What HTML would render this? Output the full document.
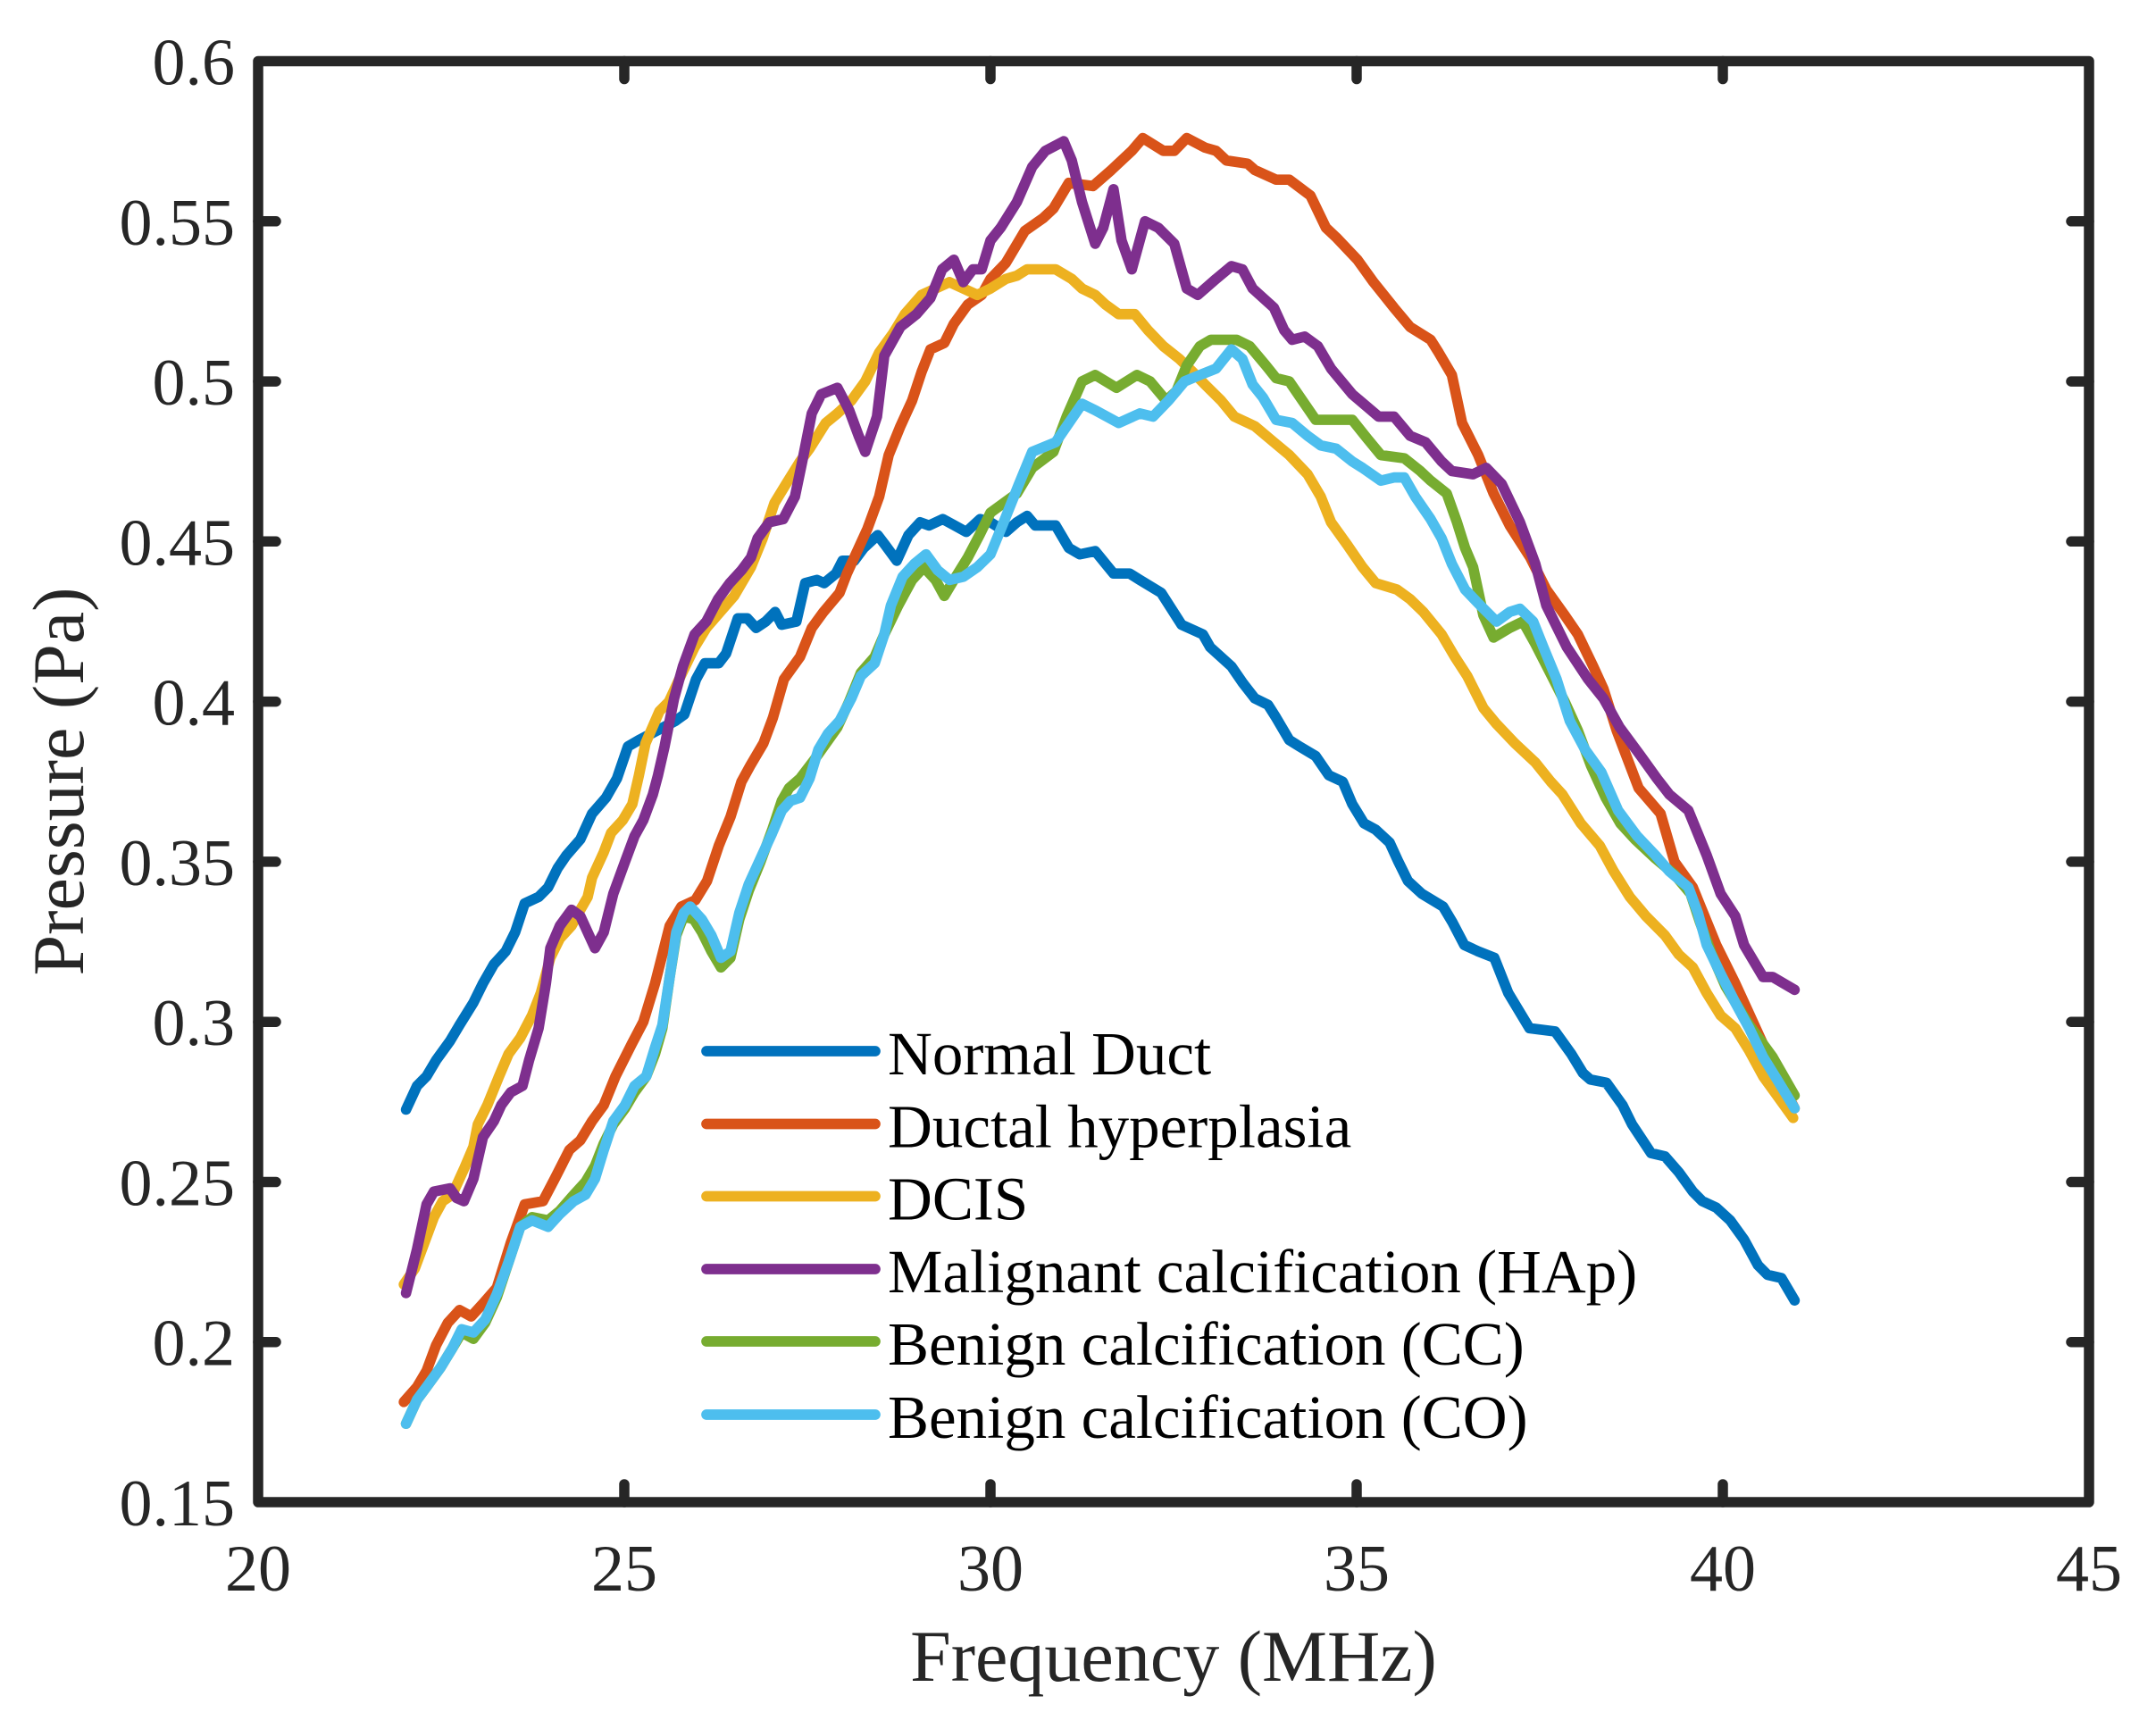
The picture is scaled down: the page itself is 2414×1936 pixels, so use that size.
<!DOCTYPE html>
<html>
<head>
<meta charset="utf-8">
<style>
html,body{margin:0;padding:0;background:#fff;}
svg{display:block;}
</style>
</head>
<body>
<svg width="2414" height="1936" viewBox="0 0 2414 1936" xmlns="http://www.w3.org/2000/svg">
<rect x="0" y="0" width="2414" height="1936" fill="#fff"/>

<g transform="matrix(82 0 0 -3585.6 -1351 2219.86)" fill="none" stroke-width="11.7" stroke-linejoin="round" stroke-linecap="round">
<polyline vector-effect="non-scaling-stroke" stroke="#0072BD" points="22.02,0.2726 22.17,0.280 22.30,0.283 22.43,0.288 22.62,0.294 22.75,0.299 22.94,0.306 23.07,0.312 23.22,0.318 23.38,0.322 23.51,0.328 23.64,0.337 23.83,0.339 23.96,0.342 24.09,0.348 24.21,0.352 24.40,0.357 24.56,0.365 24.75,0.370 24.90,0.376 25.05,0.386 25.20,0.388 25.45,0.391 25.70,0.394 25.82,0.396 25.98,0.407 26.10,0.412 26.29,0.412 26.39,0.415 26.55,0.426 26.68,0.426 26.80,0.423 26.93,0.425 27.06,0.428 27.15,0.424 27.35,0.425 27.47,0.437 27.63,0.438 27.73,0.437 27.89,0.440 27.98,0.444 28.14,0.444 28.27,0.448 28.46,0.452 28.56,0.449 28.72,0.444 28.88,0.452 29.04,0.456 29.16,0.455 29.35,0.457 29.51,0.455 29.67,0.453 29.86,0.457 30.0,0.456 30.21,0.453 30.36,0.456 30.50,0.458 30.61,0.455 30.89,0.455 31.07,0.448 31.22,0.446 31.43,0.447 31.68,0.440 31.90,0.440 32.04,0.438 32.33,0.434 32.61,0.424 32.90,0.421 33.0,0.417 33.29,0.411 33.44,0.406 33.61,0.401 33.79,0.399 33.90,0.395 34.08,0.388 34.22,0.386 34.44,0.383 34.62,0.377 34.81,0.375 34.94,0.368 35.10,0.362 35.26,0.360 35.45,0.356 35.57,0.350 35.70,0.344 35.89,0.340 36.18,0.336 36.31,0.331 36.47,0.324 36.66,0.322 36.88,0.320 37.07,0.309 37.36,0.298 37.71,0.297 37.93,0.290 38.09,0.284 38.19,0.282 38.41,0.281 38.63,0.274 38.76,0.268 39.02,0.259 39.21,0.258 39.40,0.253 39.59,0.247 39.72,0.244 39.91,0.242 40.10,0.238 40.29,0.232 40.48,0.224 40.61,0.221 40.80,0.220 40.98,0.213"/>
<polyline vector-effect="non-scaling-stroke" stroke="#D95319" points="21.99,0.1813 22.17,0.186 22.30,0.191 22.43,0.199 22.59,0.206 22.75,0.210 22.91,0.208 23.07,0.212 23.26,0.217 23.45,0.231 23.64,0.243 23.89,0.244 24.05,0.251 24.25,0.260 24.40,0.263 24.56,0.269 24.72,0.274 24.88,0.283 25.10,0.293 25.26,0.300 25.42,0.312 25.52,0.321 25.62,0.330 25.78,0.336 25.97,0.338 26.13,0.344 26.29,0.355 26.45,0.364 26.60,0.375 26.72,0.380 26.90,0.387 27.03,0.395 27.18,0.407 27.40,0.414 27.56,0.423 27.72,0.428 27.94,0.434 28.04,0.440 28.20,0.448 28.32,0.454 28.48,0.464 28.61,0.477 28.77,0.486 28.93,0.494 29.06,0.503 29.18,0.510 29.37,0.512 29.50,0.518 29.69,0.524 29.88,0.527 30.0,0.532 30.21,0.537 30.47,0.547 30.72,0.551 30.86,0.554 31.07,0.562 31.40,0.561 31.65,0.566 31.93,0.572 32.08,0.576 32.36,0.572 32.51,0.572 32.68,0.576 32.93,0.573 33.08,0.572 33.22,0.569 33.51,0.568 33.61,0.566 33.90,0.563 34.08,0.563 34.37,0.558 34.58,0.548 34.72,0.545 35.01,0.538 35.23,0.531 35.51,0.523 35.73,0.517 36.01,0.513 36.12,0.509 36.30,0.502 36.44,0.487 36.66,0.477 36.87,0.465 37.09,0.455 37.37,0.445 37.59,0.435 37.84,0.427 38.02,0.421 38.23,0.411 38.37,0.404 38.55,0.391 38.70,0.382 38.85,0.373 39.15,0.365 39.34,0.350 39.59,0.342 39.75,0.333 39.91,0.324 40.04,0.318 40.17,0.312 40.33,0.304 40.55,0.293 40.75,0.283 40.98,0.273"/>
<polyline vector-effect="non-scaling-stroke" stroke="#EDB120" points="21.99,0.218 22.14,0.223 22.27,0.231 22.40,0.239 22.52,0.244 22.65,0.246 22.81,0.254 22.94,0.261 23.0,0.268 23.13,0.274 23.29,0.283 23.42,0.290 23.58,0.295 23.74,0.302 23.86,0.309 23.99,0.320 24.12,0.326 24.28,0.330 24.40,0.335 24.50,0.339 24.56,0.345 24.72,0.353 24.82,0.359 24.98,0.363 25.11,0.368 25.20,0.377 25.29,0.387 25.48,0.397 25.61,0.400 25.77,0.408 25.96,0.417 26.12,0.423 26.31,0.428 26.50,0.433 26.73,0.442 26.89,0.451 27.05,0.462 27.21,0.468 27.40,0.475 27.53,0.479 27.75,0.487 27.91,0.490 28.10,0.494 28.29,0.500 28.48,0.509 28.67,0.515 28.83,0.521 29.06,0.527 29.25,0.529 29.44,0.531 29.63,0.529 29.82,0.527 30.0,0.529 30.21,0.532 30.36,0.533 30.50,0.535 30.89,0.535 31.11,0.532 31.25,0.529 31.43,0.527 31.57,0.524 31.75,0.521 31.97,0.521 32.15,0.516 32.36,0.511 32.58,0.507 32.76,0.503 32.93,0.499 33.15,0.494 33.33,0.489 33.61,0.486 33.87,0.481 34.08,0.477 34.33,0.471 34.51,0.464 34.65,0.456 34.87,0.449 35.08,0.442 35.26,0.437 35.55,0.435 35.73,0.432 35.91,0.428 36.16,0.421 36.34,0.414 36.51,0.408 36.73,0.398 36.91,0.393 37.16,0.387 37.44,0.381 37.65,0.375 37.81,0.371 38.06,0.362 38.32,0.355 38.51,0.347 38.73,0.339 38.95,0.333 39.21,0.327 39.40,0.321 39.59,0.317 39.78,0.309 39.97,0.302 40.17,0.298 40.36,0.291 40.55,0.283 40.74,0.277 40.96,0.270"/>
<polyline vector-effect="non-scaling-stroke" stroke="#7E2F8E" points="22.02,0.2153 22.17,0.229 22.30,0.243 22.40,0.247 22.62,0.248 22.71,0.245 22.81,0.244 22.94,0.251 23.07,0.264 23.22,0.269 23.32,0.274 23.45,0.278 23.61,0.280 23.70,0.288 23.83,0.298 23.93,0.312 23.99,0.323 24.12,0.330 24.28,0.335 24.40,0.333 24.50,0.328 24.60,0.323 24.72,0.328 24.85,0.340 25.01,0.350 25.14,0.358 25.26,0.363 25.39,0.371 25.46,0.377 25.55,0.386 25.68,0.401 25.80,0.411 25.96,0.421 26.12,0.425 26.28,0.432 26.44,0.437 26.60,0.441 26.73,0.445 26.82,0.451 26.98,0.456 27.17,0.457 27.33,0.464 27.43,0.475 27.56,0.490 27.69,0.496 27.91,0.498 28.07,0.491 28.20,0.483 28.29,0.478 28.45,0.489 28.55,0.508 28.77,0.517 28.99,0.521 29.18,0.526 29.34,0.535 29.50,0.538 29.63,0.531 29.76,0.535 29.88,0.535 30.0,0.544 30.14,0.548 30.36,0.556 30.57,0.567 30.75,0.572 31.0,0.575 31.11,0.569 31.25,0.556 31.43,0.543 31.54,0.548 31.68,0.560 31.79,0.544 31.93,0.535 32.11,0.550 32.29,0.548 32.51,0.543 32.68,0.529 32.83,0.527 33.08,0.532 33.29,0.536 33.44,0.535 33.58,0.529 33.87,0.523 34.01,0.516 34.12,0.513 34.29,0.514 34.47,0.511 34.65,0.504 34.94,0.496 35.30,0.489 35.51,0.489 35.73,0.483 35.94,0.481 36.16,0.475 36.30,0.472 36.59,0.471 36.77,0.473 36.98,0.468 37.23,0.456 37.44,0.443 37.59,0.430 37.87,0.417 38.16,0.407 38.37,0.401 38.59,0.392 38.88,0.383 39.10,0.376 39.27,0.371 39.53,0.366 39.78,0.352 39.97,0.340 40.17,0.333 40.29,0.324 40.55,0.314 40.68,0.314 40.98,0.310"/>
<polyline vector-effect="non-scaling-stroke" stroke="#77AC30" points="22.02,0.1745 22.17,0.182 22.30,0.186 22.49,0.192 22.65,0.198 22.78,0.203 22.94,0.201 23.10,0.206 23.26,0.214 23.42,0.225 23.58,0.236 23.74,0.239 23.96,0.238 24.12,0.241 24.31,0.246 24.47,0.250 24.60,0.255 24.72,0.262 24.85,0.268 25.01,0.273 25.14,0.278 25.30,0.283 25.42,0.290 25.52,0.298 25.62,0.314 25.71,0.327 25.81,0.333 25.95,0.332 26.06,0.328 26.19,0.322 26.32,0.317 26.45,0.320 26.57,0.332 26.70,0.341 26.86,0.350 27.02,0.360 27.15,0.369 27.25,0.373 27.40,0.376 27.60,0.382 27.91,0.392 28.07,0.400 28.23,0.409 28.42,0.414 28.55,0.421 28.74,0.430 28.93,0.438 29.09,0.442 29.25,0.438 29.37,0.433 29.50,0.438 29.69,0.445 29.85,0.452 30.0,0.459 30.18,0.462 30.36,0.465 30.57,0.473 30.86,0.478 31.04,0.489 31.25,0.500 31.43,0.502 31.72,0.498 32.0,0.502 32.18,0.500 32.40,0.494 32.54,0.497 32.68,0.505 32.86,0.511 33.01,0.513 33.36,0.513 33.54,0.511 33.76,0.505 33.90,0.501 34.08,0.500 34.26,0.494 34.44,0.488 34.94,0.488 35.15,0.482 35.33,0.477 35.65,0.476 35.87,0.472 36.01,0.469 36.23,0.465 36.37,0.456 36.48,0.448 36.59,0.442 36.73,0.427 36.87,0.420 37.09,0.423 37.27,0.425 37.44,0.418 37.62,0.410 37.84,0.400 38.02,0.391 38.20,0.380 38.40,0.370 38.60,0.362 38.80,0.357 39.08,0.351 39.34,0.346 39.56,0.340 39.69,0.331 39.85,0.321 40.04,0.311 40.36,0.299 40.68,0.289 40.98,0.277"/>
<polyline vector-effect="non-scaling-stroke" stroke="#4DBEEE" points="22.02,0.1745 22.17,0.182 22.30,0.186 22.49,0.192 22.65,0.198 22.78,0.204 22.94,0.203 23.10,0.207 23.26,0.215 23.42,0.225 23.58,0.236 23.74,0.238 23.96,0.236 24.12,0.240 24.31,0.244 24.47,0.246 24.60,0.251 24.72,0.260 24.85,0.269 25.01,0.274 25.14,0.280 25.30,0.283 25.42,0.292 25.52,0.299 25.62,0.314 25.71,0.328 25.81,0.334 25.90,0.336 26.06,0.332 26.19,0.327 26.32,0.320 26.45,0.322 26.57,0.334 26.70,0.343 26.86,0.351 27.02,0.359 27.15,0.366 27.27,0.369 27.40,0.370 27.53,0.376 27.65,0.385 27.78,0.390 27.94,0.394 28.10,0.401 28.23,0.408 28.42,0.412 28.55,0.421 28.64,0.430 28.80,0.439 28.96,0.443 29.12,0.446 29.28,0.441 29.44,0.438 29.63,0.439 29.82,0.442 30.0,0.446 30.18,0.456 30.39,0.468 30.57,0.478 30.89,0.481 31.07,0.487 31.25,0.493 31.43,0.491 31.75,0.487 32.04,0.490 32.22,0.489 32.43,0.494 32.65,0.500 32.86,0.502 33.08,0.504 33.29,0.510 33.44,0.507 33.58,0.499 33.72,0.495 33.90,0.488 34.12,0.487 34.33,0.483 34.51,0.480 34.72,0.479 34.94,0.475 35.08,0.473 35.33,0.469 35.51,0.470 35.65,0.470 35.80,0.464 36.01,0.457 36.16,0.451 36.30,0.443 36.48,0.435 36.69,0.430 36.91,0.425 37.09,0.428 37.23,0.429 37.41,0.425 37.55,0.417 37.73,0.407 37.91,0.394 38.12,0.385 38.34,0.378 38.57,0.366 38.83,0.358 39.08,0.352 39.27,0.347 39.53,0.342 39.66,0.334 39.78,0.324 39.97,0.315 40.17,0.306 40.36,0.298 40.55,0.289 40.74,0.282 40.98,0.273"/>
</g>

<!-- axes box -->
<g stroke="#262626" stroke-width="11.5" fill="none" stroke-linecap="round" stroke-linejoin="round">
<rect x="289" y="68.5" width="2050" height="1613.5"/>
<path d="M289 247.8H309M289 427.1H309M289 606.3H309M289 785.6H309M289 964.9H309M289 1144.2H309M289 1323.5H309M289 1502.7H309"/>
<path d="M2339 247.8H2319M2339 427.1H2319M2339 606.3H2319M2339 785.6H2319M2339 964.9H2319M2339 1144.2H2319M2339 1323.5H2319M2339 1502.7H2319"/>
<path d="M699 1682V1662M1109 1682V1662M1519 1682V1662M1929 1682V1662"/>
<path d="M699 68.5V88.5M1109 68.5V88.5M1519 68.5V88.5M1929 68.5V88.5"/>
</g>

<!-- y tick labels -->
<g font-family="'Liberation Serif', 'Times New Roman', serif" font-size="74" fill="#262626" text-anchor="end">
<text x="263" y="94.5">0.6</text>
<text x="263" y="273.8">0.55</text>
<text x="263" y="453.1">0.5</text>
<text x="263" y="632.3">0.45</text>
<text x="263" y="811.6">0.4</text>
<text x="263" y="990.9">0.35</text>
<text x="263" y="1170.2">0.3</text>
<text x="263" y="1349.5">0.25</text>
<text x="263" y="1528.7">0.2</text>
<text x="263" y="1708">0.15</text>
</g>

<!-- x tick labels -->
<g font-family="'Liberation Serif', 'Times New Roman', serif" font-size="74" fill="#262626" text-anchor="middle">
<text x="289" y="1781">20</text>
<text x="699" y="1781">25</text>
<text x="1109" y="1781">30</text>
<text x="1519" y="1781">35</text>
<text x="1929" y="1781">40</text>
<text x="2339" y="1781">45</text>
</g>

<!-- axis labels -->
<text x="1314" y="1882" font-family="'Liberation Serif', 'Times New Roman', serif" font-size="82" fill="#262626" text-anchor="middle">Frequency (MHz)</text>
<text transform="translate(93,875) rotate(-90)" font-family="'Liberation Serif', 'Times New Roman', serif" font-size="82" fill="#262626" text-anchor="middle">Pressure (Pa)</text>

<!-- legend -->
<g stroke-width="11.7" stroke-linecap="round" fill="none">
<path d="M791 1177H980" stroke="#0072BD"/>
<path d="M791 1258.5H980" stroke="#D95319"/>
<path d="M791 1339.5H980" stroke="#EDB120"/>
<path d="M791 1421H980" stroke="#7E2F8E"/>
<path d="M791 1502H980" stroke="#77AC30"/>
<path d="M791 1584H980" stroke="#4DBEEE"/>
</g>
<g font-family="'Liberation Serif', 'Times New Roman', serif" font-size="69" fill="#000">
<text x="994" y="1203">Normal Duct</text>
<text x="994" y="1284.5">Ductal hyperplasia</text>
<text x="994" y="1365.5">DCIS</text>
<text x="994" y="1447">Malignant calcification (HAp)</text>
<text x="994" y="1528">Benign calcification (CC)</text>
<text x="994" y="1610">Benign calcification (CO)</text>
</g>
</svg>
</body>
</html>
